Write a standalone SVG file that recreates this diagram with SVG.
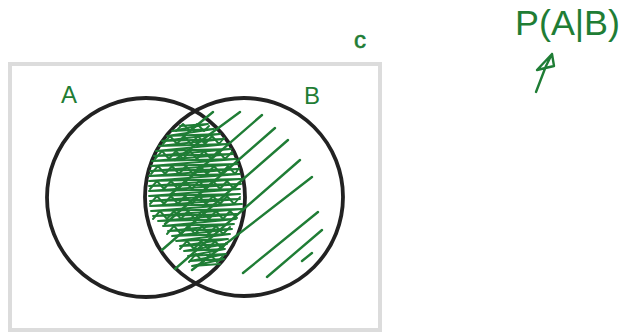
<svg xmlns="http://www.w3.org/2000/svg" width="625" height="333" viewBox="0 0 625 333">
<style>
.ink{fill:none;stroke:#1f7d35;stroke-linecap:round;stroke-linejoin:round}
.hatch{stroke-width:2.4}
.scrib{stroke-width:1.9}
.circ{fill:none;stroke:#222;stroke-width:3.8}
.lbl{fill:#1f7d35;font-family:"Liberation Sans",Arial,sans-serif}
</style>
<rect width="625" height="333" fill="#fff"/>
<g id="universe">
<rect x="10" y="64" width="370" height="266" fill="none" stroke="#dcdcdc" stroke-width="4"/>
<text class="lbl" x="354" y="48" font-size="24" stroke="#1f7d35" stroke-width="0.6">c</text>
</g>
<g id="setA">
<ellipse class="circ" cx="146" cy="197.5" rx="99" ry="99.5"/>
<text class="lbl" x="61" y="103" font-size="24">A</text>
</g>
<g id="setB">
<ellipse class="circ" cx="244" cy="197" rx="99" ry="99"/>
<text class="lbl" x="304" y="104" font-size="24">B</text>
</g>
<g id="shading">
<path class="ink hatch" d="M185,135L213,112M175,160L240,112M170,195L262,115M165,224L275,128M162,250L288,140M175,269L300,160M192,270L312,177M243,273L318,212M267,277L322,230M302,261L312,253"/>
<path class="ink scrib" d="M180,126L208,124L172,131L214,129L167,136L220,134L162,141L224,139L159,146L228,144L156,151L231,149L154,156L233,154L152,161L236,159L151,166L238,164L150,171L239,169L149,176L240,174L149,181L241,179L149,186L241,184L149,191L240,189L149,196L240,194L150,201L240,199L150,206L242,204L151,211L243,209L153,216L238,214L158,221L236,219L163,226L234,224L168,231L232,229L172,236L230,234L176,241L228,239L180,246L227,244L184,251L225,249L188,256L226,254L190,261L224,259L192,266L220,264"/>
<path class="ink scrib" d="M176,131L183,124L190,131L197,124L204,131L209,126
M163,144L170,136L177,144L184,136L191,144L198,136L205,144L212,136L219,144L224,138
M155,159L162,151L169,159L176,151L183,159L190,151L197,159L204,151L211,159L218,151L225,159L232,152
M151,174L158,166L165,174L172,166L179,174L186,166L193,174L200,166L207,174L214,166L221,174L228,166L235,174L239,168
M150,189L157,181L164,189L171,181L178,189L185,181L192,189L199,181L206,189L213,181L220,189L227,181L234,189L240,182
M150,204L157,196L164,204L171,196L178,204L185,196L192,204L199,196L206,204L213,196L220,204L227,196L234,204L240,197
M153,219L160,211L167,219L174,211L181,219L188,211L195,219L202,211L209,219L216,211L223,219L230,211L237,218
M167,234L174,226L181,234L188,226L195,234L202,226L209,234L216,226L223,234L230,227
M180,249L187,241L194,249L201,241L208,249L215,241L222,249L226,243
M189,262L196,254L203,262L210,254L217,262L223,256"/>
</g>
<g id="formula">
<text class="lbl" x="515" y="35" font-size="35" textLength="105" lengthAdjust="spacingAndGlyphs">P(A|B)</text>
<path class="ink" stroke-width="2.4" d="M536,92L546,66L552,54M537,70L552,54L554,66Z"/>
</g>
</svg>
